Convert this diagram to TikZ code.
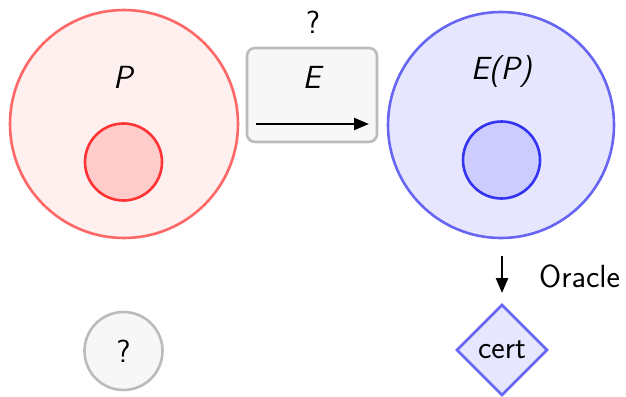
\documentclass[tikz,border=0pt]{standalone}
\usepackage{fontspec}
\usetikzlibrary{shapes.geometric,arrows.meta}
\definecolor{redline}{HTML}{FF6666}
\definecolor{redfill}{HTML}{FFF0F0}
\definecolor{redcore}{HTML}{FF3333}
\definecolor{redcorefill}{HTML}{FFCCCC}
\definecolor{blueline}{HTML}{6666F2}
\definecolor{bluefill}{HTML}{E6E6FF}
\definecolor{bluecore}{HTML}{3333F2}
\definecolor{bluecorefill}{HTML}{CCCCFF}
\definecolor{greyline}{HTML}{BBBBBB}
\definecolor{greyfill}{HTML}{F7F7F7}
\tikzset{
  every node/.style={font=\sffamily\fontsize{32}{36}\selectfont, inner sep=0pt},
  disc/.style={circle, line width=2.6pt, minimum size=#1},
  arrowline/.style={line width=2.4pt, -{Triangle[length=15pt,width=12pt]}},
}
\begin{document}
\begin{tikzpicture}[x=1pt,y=-1pt]
\useasboundingbox (0,0) rectangle (626,396);
% source set P with its core
\node[disc=228pt, draw=redline, fill=redfill] (P) at (124,124) {};
\node[disc=77pt, draw=redcore, fill=redcorefill] (Pcore) at (123.5,162) {};
\node (Plabel) at (124,77) {\textit{P}};
% encoding box E
\node[draw=greyline, fill=greyfill, line width=2.6pt, rounded corners=8pt,
      minimum width=130pt, minimum height=94pt] (E) at (312,95) {};
\node (Elabel) at (313,77) {\textit{E}};
\node (Eq) at (313,22) {?};
\coordinate (Ea) at (256,124);
\coordinate (Eb) at (369,124);
\draw[arrowline] (Ea) -- (Eb);
% image set E(P) with its core
\node[disc=226pt, draw=blueline, fill=bluefill] (EP) at (501,125) {};
\node[disc=77pt, draw=bluecore, fill=bluecorefill] (EPcore) at (501.5,160) {};
\node (EPlabel) at (502,72) {\textit{E(P)}};
% oracle query and certificate
\coordinate (Oa) at (502,256);
\node[draw=blueline, fill=bluefill, line width=2.6pt, diamond, aspect=1,
      minimum size=91pt] (cert) at (502,350) {cert};
\coordinate (Ob) at (502,293);
\draw[arrowline] (Oa) -- (Ob);
\node[anchor=west] (oracle) at (539,276) {Oracle};
% unknown counterpart
\node[disc=78pt, draw=greyline, fill=greyfill] (unk) at (123.5,351) {?};
\end{tikzpicture}
\end{document}
